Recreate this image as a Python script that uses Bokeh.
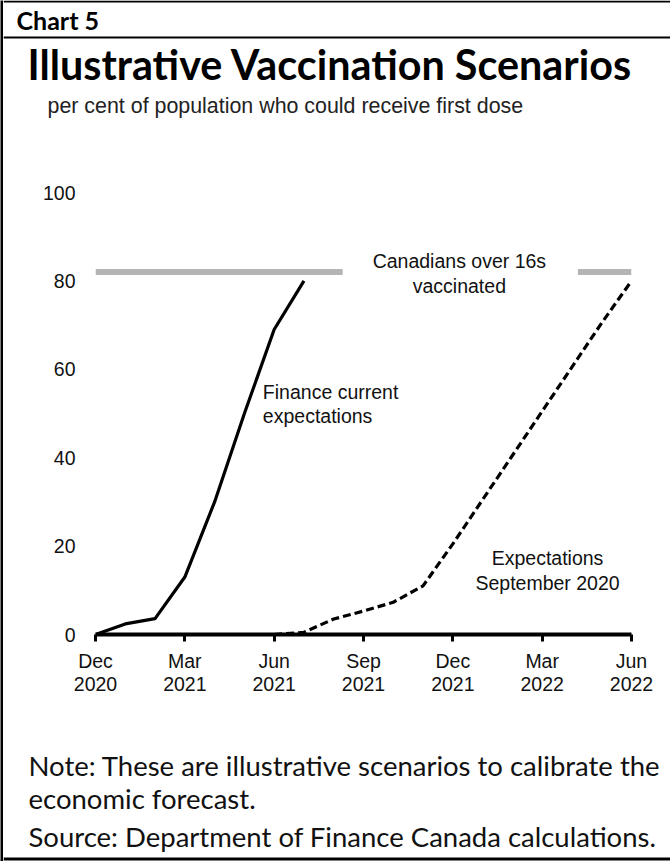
from bokeh.plotting import figure
from bokeh.layouts import row, column
from bokeh.models import ColumnDataSource, Range1d, FixedTicker, Label
from bokeh.embed import file_html
from bokeh.resources import INLINE

# x positions are months counted from December 2020
tick_months = [0, 3, 6, 9, 12, 15, 18]
tick_labels = ["Dec\n2020", "Mar\n2021", "Jun\n2021", "Sep\n2021",
               "Dec\n2021", "Mar\n2022", "Jun\n2022"]
y_ticks = [0, 20, 40, 60, 80, 100]

# Finance current expectations (per cent with a first dose)
current_months = [0, 1, 2, 3, 4, 5, 6, 7]
current_pct = [0, 2.4, 3.6, 13, 30, 50, 69, 80]

# Expectations as of September 2020
sept_months = [6, 7, 8, 9, 10, 11, 12, 13, 14, 15, 16, 17, 18]
sept_pct = [0, 0.5, 3.5, 5.3, 7.3, 11, 20.5, 30.5, 40.5, 50.5, 60.5, 70.5, 80]

# Reference level: Canadians over 16 vaccinated (drawn with a gap for its label)
target_pct = 82
target_start = [0, 16.2]
target_end = [8.3, 18]

PAGE_W, PAGE_H = 670, 861
RULE_W = 3                      # black rule down the left edge
INNER_W = PAGE_W - RULE_W
HEAD_H = 130                    # "Chart 5" band, title, subtitle
FOOT_H = 141                    # note and source
CHART_H = PAGE_H - HEAD_H - FOOT_H

AXIS_FONT = "Liberation Sans"
NOTE_FONT = "Lato"
TEXT_COLOR = "#111111"


def panel(height):
    """A plain drawing surface whose data units are pixels, y running downward."""
    f = figure(width=INNER_W, height=height, output_backend="svg",
               toolbar_location=None, x_range=Range1d(0, INNER_W),
               y_range=Range1d(height, 0), min_border=0, frame_align=False,
               background_fill_color="white", border_fill_color="white")
    f.axis.visible = False
    f.grid.visible = False
    f.outline_line_color = None
    return f


def text_at(f, text, x, baseline, font, size, style="normal", color=TEXT_COLOR):
    """Left-aligned text whose baseline sits at the given pixel row."""
    px = float(size.rstrip("px"))
    f.add_layout(Label(x=x - RULE_W, y=baseline - 0.35 * px, text=text,
                       text_font=font, text_font_size=size,
                       text_font_style=style, text_color=color,
                       text_baseline="alphabetic", text_align="left"))


# ---- header ----
head = panel(HEAD_H)
head.quad(left=[0, 0], right=[INNER_W, INNER_W], top=[0, 36], bottom=[2, 38],
          fill_color="black", line_color=None)
text_at(head, "Chart 5", 16, 28.5, NOTE_FONT, "25px", "bold", "black")
text_at(head, "Illustrative Vaccination Scenarios", 27, 78, NOTE_FONT, "41.3px",
        "bold", "black")
text_at(head, "per cent of population who could receive first dose", 47, 113,
        AXIS_FONT, "21.4px", color="#222222")

# ---- chart ----
FRAME_LEFT, FRAME_RIGHT = 95 - RULE_W, 631 - RULE_W
FRAME_TOP, FRAME_BOTTOM = 192 - HEAD_H, 634 - HEAD_H

p = figure(width=INNER_W, height=CHART_H, output_backend="svg",
           toolbar_location=None, frame_align=False,
           x_range=Range1d(0, 18), y_range=Range1d(0, 100),
           min_border_left=FRAME_LEFT, min_border_right=INNER_W - FRAME_RIGHT,
           min_border_top=FRAME_TOP, min_border_bottom=CHART_H - FRAME_BOTTOM,
           background_fill_color="white", border_fill_color="white")
p.outline_line_color = None
p.xgrid.visible = False
p.ygrid.visible = False

xa = p.xaxis[0]
xa.ticker = FixedTicker(ticks=tick_months)
xa.major_label_overrides = {m: lab for m, lab in zip(tick_months, tick_labels)}
xa.axis_line_color = "black"
xa.axis_line_width = 4
xa.major_tick_line_color = "black"
xa.major_tick_line_width = 3
xa.major_tick_in = 0
xa.major_tick_out = 7
xa.minor_tick_line_color = None
xa.major_label_text_font = AXIS_FONT
xa.major_label_text_font_size = "19.5px"
xa.major_label_text_color = TEXT_COLOR
xa.major_label_text_line_height = 1.07
xa.major_label_standoff = 8

ya = p.yaxis[0]
ya.ticker = FixedTicker(ticks=y_ticks)
ya.axis_line_color = None
ya.major_tick_line_color = None
ya.minor_tick_line_color = None
ya.major_tick_in = 0
ya.major_tick_out = 0
ya.major_label_standoff = 20
ya.major_label_text_font = AXIS_FONT
ya.major_label_text_font_size = "19.5px"
ya.major_label_text_color = TEXT_COLOR

target_src = ColumnDataSource(dict(x0=target_start, x1=target_end,
                                   y=[target_pct] * len(target_start)))
p.segment(x0="x0", y0="y", x1="x1", y1="y", source=target_src,
          line_color="#b4b4b4", line_width=6, line_cap="butt")

cur_src = ColumnDataSource(dict(x=current_months, y=current_pct))
p.line("x", "y", source=cur_src, line_color="black", line_width=3.2)

sep_src = ColumnDataSource(dict(x=sept_months, y=sept_pct))
p.line("x", "y", source=sep_src, line_color="black", line_width=3.2,
       line_dash="8 4")

ann = dict(text_font=AXIS_FONT, text_font_size="19.5px", text_color=TEXT_COLOR,
           text_line_height=1.12, text_baseline="top")
p.add_layout(Label(x=12.22, y=86.9, text="Canadians over 16s\nvaccinated",
                   text_align="center", **ann))
p.add_layout(Label(x=5.62, y=57.4, text="Finance current\nexpectations",
                   text_align="left", **ann))
p.add_layout(Label(x=15.18, y=19.8, text="Expectations\nSeptember 2020",
                   text_align="center", **ann))

# ---- footer ----
foot = panel(FOOT_H)
foot_top = HEAD_H + CHART_H
for line, base in [("Note: These are illustrative scenarios to calibrate the", 775),
                   ("economic forecast.", 808),
                   ("Source: Department of Finance Canada calculations.", 846)]:
    text_at(foot, line, 28, base - foot_top, NOTE_FONT, "27.5px")
foot.quad(left=[0], right=[INNER_W], top=[857 - foot_top], bottom=[860 - foot_top],
          fill_color="black", line_color=None)

# ---- left rule ----
edge = figure(width=RULE_W, height=PAGE_H, output_backend="svg",
              toolbar_location=None, min_border=0, frame_align=False,
              background_fill_color="black", border_fill_color="black")
edge.axis.visible = False
edge.grid.visible = False
edge.outline_line_color = None

page = row(edge, column(head, p, foot, spacing=0), spacing=0)
open("out.html", "w").write(file_html(page, INLINE))
